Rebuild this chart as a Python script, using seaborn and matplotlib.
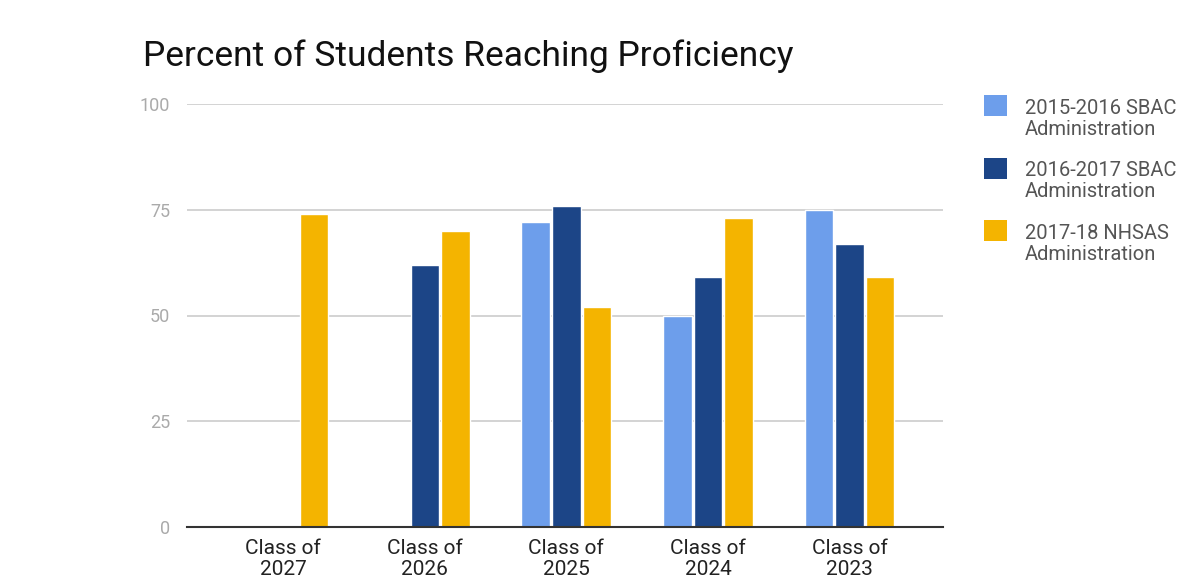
import numpy as np
import pandas as pd
import seaborn as sns
from matplotlib import pyplot as plt
from matplotlib.patches import Rectangle

classes = ["Class of\n2027", "Class of\n2026", "Class of\n2025", "Class of\n2024", "Class of\n2023"]
series = ["2015-2016 SBAC\nAdministration", "2016-2017 SBAC\nAdministration", "2017-18 NHSAS\nAdministration"]
sbac_2016 = [np.nan, np.nan, 72, 50, 75]
sbac_2017 = [np.nan, 62, 76, 59, 67]
nhsas_2018 = [74, 70, 52, 73, 59]
colors = ["#6d9eeb", "#1c4587", "#f4b400"]

rows = []
for name, vals in zip(series, [sbac_2016, sbac_2017, nhsas_2018]):
    for c, v in zip(classes, vals):
        rows.append({"Class": c, "Administration": name, "Percent": v})
data = pd.DataFrame(rows)

sns.set_style("white")
plt.rcParams["font.family"] = ["Roboto", "DejaVu Sans"]

W, H = 1195, 584
fig = plt.figure(figsize=(W / 100, H / 100), dpi=100)
ax = fig.add_axes([187 / W, 1 - 527 / H, 756 / W, 423 / H])

sns.barplot(data, x="Class", y="Percent", hue="Administration", order=classes,
            hue_order=series, palette=colors, width=0.65, gap=0.07, saturation=1,
            legend=False, ax=ax)

ax.set_ylim(0, 100)
ax.set_xlim(-0.68, 4.66)
ax.set_yticks([0, 25, 50, 75, 100])
ax.yaxis.grid(True, color="#cccccc", linewidth=1.2)
ax.set_axisbelow(True)
for s in ["top", "right", "left"]:
    ax.spines[s].set_visible(False)
ax.spines["bottom"].set_color("#333333")
ax.spines["bottom"].set_linewidth(1.5)
ax.tick_params(axis="y", length=0, pad=12, labelsize=13, labelcolor="#aaaaaa")
ax.tick_params(axis="x", length=0, pad=9, labelsize=15, labelcolor="#222222")
for t in ax.get_xticklabels():
    t.set_linespacing(1.1)
ax.set_xlabel("")
ax.set_ylabel("")

fig.text(143 / W, 1 - 56 / H, "Percent of Students Reaching Proficiency",
         fontsize=25.5, color="#111111", va="center", ha="left")

# legend: square lined up with the first line of each label
for i, (name, c) in enumerate(zip(series, colors)):
    top = 95 + i * 62.5
    fig.add_artist(Rectangle((984 / W, 1 - (top + 21) / H), 23 / W, 21 / H,
                             transform=fig.transFigure, facecolor=c, edgecolor="none"))
    fig.text(1025 / W, 1 - (top + 4) / H, name, fontsize=14.5, color="#555555",
             va="top", ha="left", linespacing=1.12)

plt.savefig("out.png", dpi=100)
